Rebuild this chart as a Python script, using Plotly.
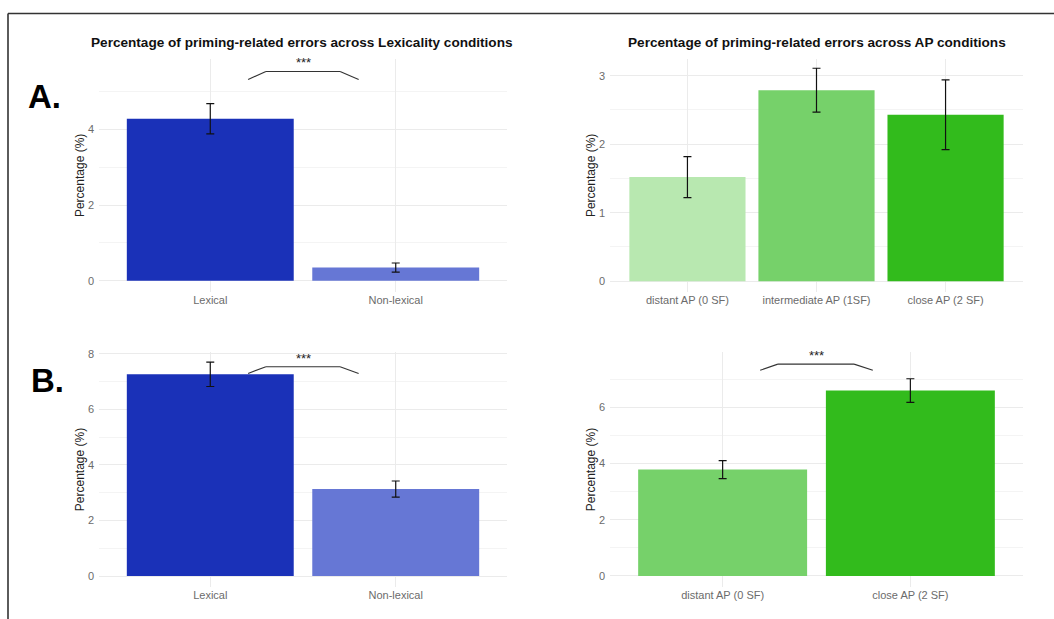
import plotly.graph_objects as go

# ---------------- data ----------------
lex_categories = ["Lexical", "Non-lexical"]
ap3_categories = ["distant AP (0 SF)", "intermediate AP (1SF)", "close AP (2 SF)"]
ap2_categories = ["distant AP (0 SF)", "close AP (2 SF)"]

a_lex_values = [4.28, 0.35]
a_lex_se = [0.40, 0.12]
a_ap_values = [1.52, 2.79, 2.43]
a_ap_se = [0.30, 0.32, 0.51]

b_lex_values = [7.26, 3.13]
b_lex_se = [0.44, 0.29]
b_ap_values = [3.78, 6.59]
b_ap_se = [0.32, 0.42]

lex_colors = ["#1a31b8", "#6677d5"]
ap3_colors = ["#b8e8b0", "#76d16a", "#32bb1c"]
ap2_colors = ["#76d16a", "#32bb1c"]

title_lex = "Percentage of priming-related errors across Lexicality conditions"
title_ap = "Percentage of priming-related errors across AP conditions"
y_title = "Percentage (%)"
sig_label = "***"

# bracket shapes: (x points in category index units, y points in data units)
bracket_a_lex = ([0.204, 0.30, 0.70, 0.80], [5.32, 5.53, 5.53, 5.32])
bracket_b_lex = ([0.204, 0.30, 0.70, 0.80], [7.29, 7.53, 7.53, 7.29])
bracket_b_ap = ([0.20, 0.294, 0.70, 0.80], [7.31, 7.53, 7.53, 7.31])

W, H = 1054, 619

def px_x(p):
    return p / W

def px_y(p):
    return 1 - p / H

fig = go.Figure()

def add_bars(cats, vals, se, colors, xa, ya):
    fig.add_trace(go.Bar(
        x=cats, y=vals, marker=dict(color=colors, line=dict(width=0)),
        width=0.9,
        error_y=dict(type="data", array=se, visible=True, color="#111111",
                     thickness=1.2, width=4),
        xaxis=xa, yaxis=ya, showlegend=False, hoverinfo="x+y"))

add_bars(lex_categories, a_lex_values, a_lex_se, lex_colors, "x", "y")
add_bars(ap3_categories, a_ap_values, a_ap_se, ap3_colors, "x2", "y2")
add_bars(lex_categories, b_lex_values, b_lex_se, lex_colors, "x3", "y3")
add_bars(ap2_categories, b_ap_values, b_ap_se, ap2_colors, "x4", "y4")

grid = "#ebebeb"
minor_grid = "#f4f4f4"
tick_font = dict(family="Liberation Sans, Arial, sans-serif", size=11, color="#6b6b6b")
axis_title_font = dict(family="Liberation Sans, Arial, sans-serif", size=12, color="#222222")

def xaxis(domain, n, anchor):
    return dict(domain=domain, anchor=anchor, type="category",
                range=[-0.6, n - 1 + 0.6], showgrid=True, gridcolor=grid,
                gridwidth=1, zeroline=False, showline=False, ticks="",
                tickfont=tick_font, fixedrange=True)

def yaxis(domain, rng, dtick, anchor):
    return dict(domain=domain, anchor=anchor, range=rng, dtick=dtick, tick0=0,
                showgrid=True, gridcolor=grid, gridwidth=1, zeroline=False,
                showline=False, ticks="", tickfont=tick_font,
                ticklabelstandoff=4,
                minor=dict(dtick=dtick / 2, tick0=0, showgrid=True,
                           gridcolor=minor_grid, gridwidth=1),
                title=dict(text=y_title, font=axis_title_font, standoff=0),
                fixedrange=True)

xl = [px_x(99), px_x(507)]
xr = [px_x(610), px_x(1023)]
yt = [px_y(290), px_y(55)]
yb = [px_y(587), px_y(350)]

fig.update_layout(
    width=W, height=H,
    margin=dict(l=0, r=0, t=0, b=0),
    paper_bgcolor="white", plot_bgcolor="white",
    bargap=0.1,
    xaxis=xaxis(xl, 2, "y"),
    yaxis=yaxis(yt, [-0.3, 5.87], 2, "x"),
    xaxis2=xaxis(xr, 3, "y2"),
    yaxis2=yaxis(yt, [-0.16, 3.25], 1, "x2"),
    xaxis3=xaxis(xl, 2, "y3"),
    yaxis3=yaxis(yb, [-0.4, 8.07], 2, "x3"),
    xaxis4=xaxis(xr, 2, "y4"),
    yaxis4=yaxis(yb, [-0.4, 7.97], 2, "x4"),
    font=dict(family="Liberation Sans, Arial, sans-serif"),
)

shapes = []
def add_bracket(br, xref, yref):
    xs, ys = br
    for i in range(len(xs) - 1):
        shapes.append(dict(type="line", xref=xref, yref=yref,
                           x0=xs[i], y0=ys[i], x1=xs[i + 1], y1=ys[i + 1],
                           line=dict(color="#333333", width=1.1)))

add_bracket(bracket_a_lex, "x", "y")
add_bracket(bracket_b_lex, "x3", "y3")
add_bracket(bracket_b_ap, "x4", "y4")

# outer frame (top and left edge)
shapes.append(dict(type="line", xref="paper", yref="paper",
                   x0=px_x(8), y0=px_y(9.5), x1=1, y1=px_y(9.5),
                   line=dict(color="#333333", width=1.6)))
shapes.append(dict(type="line", xref="paper", yref="paper",
                   x0=px_x(8), y0=px_y(9.5), x1=px_x(8), y1=0,
                   line=dict(color="#333333", width=1.6)))

annotations = []
title_font = dict(family="Liberation Sans, Arial, sans-serif", size=13.6, color="#111111")
annotations.append(dict(text="<b>%s</b>" % title_lex, xref="paper", yref="paper",
                        x=px_x(302), y=px_y(39), showarrow=False, font=title_font,
                        xanchor="center", yanchor="middle"))
annotations.append(dict(text="<b>%s</b>" % title_ap, xref="paper", yref="paper",
                        x=px_x(817), y=px_y(39), showarrow=False, font=title_font,
                        xanchor="center", yanchor="middle"))

star_font = dict(family="Liberation Sans, Arial, sans-serif", size=13, color="#222222")
def add_star(xref, yref, x, y):
    annotations.append(dict(text=sig_label, xref=xref, yref=yref, x=x, y=y,
                            showarrow=False, font=star_font,
                            xanchor="center", yanchor="middle"))

add_star("x", "y", 0.5, 5.76)
add_star("x3", "y3", 0.5, 7.83)
add_star("x4", "y4", 0.5, 7.82)

label_font = dict(family="Liberation Sans, Arial, sans-serif", size=33, color="#000000")
annotations.append(dict(text="<b>A.</b>", xref="paper", yref="paper",
                        x=px_x(44), y=px_y(93), showarrow=False, font=label_font,
                        xanchor="center", yanchor="middle"))
annotations.append(dict(text="<b>B.</b>", xref="paper", yref="paper",
                        x=px_x(47), y=px_y(379), showarrow=False, font=label_font,
                        xanchor="center", yanchor="middle"))

fig.update_layout(shapes=shapes, annotations=annotations)

fig.write_html("out.html",
               config={"displayModeBar": False},
               post_script="document.body.style.margin='0';document.body.style.overflow='hidden';")
